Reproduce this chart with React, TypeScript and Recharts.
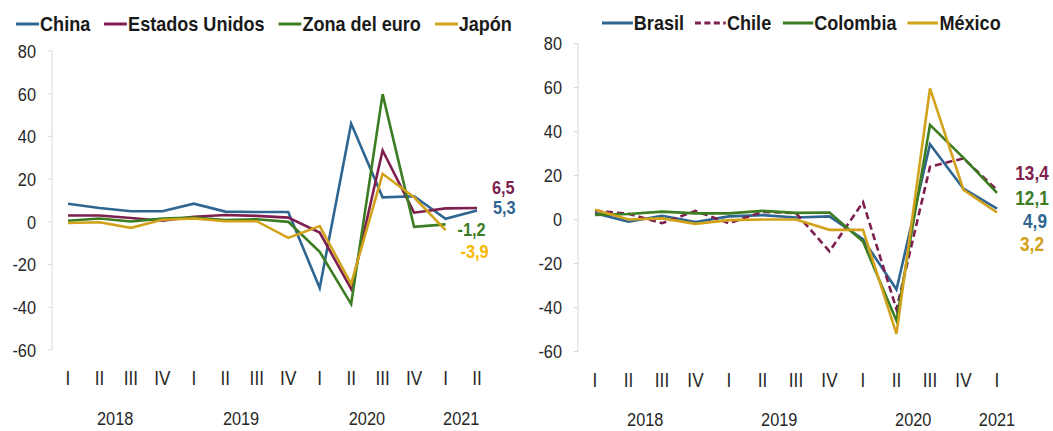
import React from "react";
import { LineChart, Line, XAxis, YAxis, LabelList } from "recharts";

const FONT = "'Liberation Sans', Arial, sans-serif";
const SX = 0.86; // horizontal condensation to mimic a narrow typeface

// ---------- Left panel data ----------
const leftQuarters = ["I", "II", "III", "IV", "I", "II", "III", "IV", "I", "II", "III", "IV", "I", "II"];
const leftYears = ["2018", "2019", "2020", "2021"];
const leftYearCenters = [1.5, 5.5, 9.5, 12.5];
const china = [8.5, 6.5, 5.0, 5.0, 8.5, 4.8, 4.6, 4.6, -31, 46, 11.5, 12, 1.4, 5.3];
const estadosUnidos = [3.0, 3.0, 1.8, 0.5, 2.4, 3.2, 2.8, 2.0, -5, -31.4, 33.4, 4.3, 6.3, 6.5];
const zonaEuro = [0.5, 1.6, 0.2, 1.5, 2.0, 0.8, 1.2, 0.0, -14, -38.5, 59.8, -2.3, -1.2, null];
const japon = [-0.5, -0.2, -2.8, 1.0, 1.6, 0.3, 0.3, -7.5, -2.0, -29, 22.5, 11.5, -3.9, null];

// ---------- Right panel data ----------
const rightQuarters = ["I", "II", "III", "IV", "I", "II", "III", "IV", "I", "II", "III", "IV", "I"];
const rightYears = ["2018", "2019", "2020", "2021"];
const rightYearCenters = [1.5, 5.5, 9.5, 12];
const brasil = [2.9, -1.0, 1.7, -1.2, 1.4, 2.0, 0.9, 1.4, -9, -31.8, 34.2, 14, 4.9];
const chile = [4.0, 2.6, -1.7, 3.9, -1.7, 3.5, 2.9, -14.5, 7.9, -40.8, 24, 27.8, 13.4];
const colombia = [2.1, 2.5, 3.6, 2.8, 2.8, 3.9, 3.0, 3.2, -10, -46, 43, 28, 12.1];
const mexico = [4.4, 0.0, 0.5, -2.0, -0.3, 0.0, 0.0, -4.7, -4.7, -52, 59.6, 13.5, 3.2];

const yTicks = [-60, -40, -20, 0, 20, 40, 60, 80];

const BLUE = "#2f6591";
const MAROON = "#7d1f4f";
const GREEN = "#3c7d22";
const GOLD = "#d1a21a";
const TEXT = "#262626";

type Series = {
  key: string;
  name: string;
  color: string;
  values: (number | null)[];
  dash?: string;
  labelColor: string;
  dx: number;
  dy: number;
  anchor: "start" | "middle" | "end";
};

const leftSeries: Series[] = [
  { key: "china", name: "China", color: BLUE, values: china, labelColor: BLUE, dx: 16, dy: -3, anchor: "start" },
  { key: "us", name: "Estados Unidos", color: MAROON, values: estadosUnidos, labelColor: MAROON, dx: 15, dy: -21, anchor: "start" },
  { key: "euro", name: "Zona del euro", color: GREEN, values: zonaEuro, labelColor: GREEN, dx: 12, dy: 5, anchor: "start" },
  { key: "jp", name: "Japón", color: GOLD, values: japon, labelColor: "#f5b800", dx: 15, dy: 21, anchor: "start" },
];

const rightSeries: Series[] = [
  { key: "br", name: "Brasil", color: BLUE, values: brasil, labelColor: BLUE, dx: 38, dy: 12, anchor: "middle" },
  { key: "cl", name: "Chile", color: MAROON, values: chile, dash: "7 4", labelColor: MAROON, dx: 35, dy: -17, anchor: "middle" },
  { key: "co", name: "Colombia", color: GREEN, values: colombia, labelColor: GREEN, dx: 35, dy: 5, anchor: "middle" },
  { key: "mx", name: "México", color: GOLD, values: mexico, labelColor: GOLD, dx: 35, dy: 31, anchor: "middle" },
];

const fmt = (v: number) => v.toFixed(1).replace(".", ",");

function buildRows(quarters: string[], series: Series[]) {
  return quarters.map((q, i) => {
    const row: Record<string, any> = { idx: i, q };
    series.forEach((s) => {
      row[s.key] = s.values[i];
    });
    return row;
  });
}

function lastIndex(values: (number | null)[]) {
  for (let i = values.length - 1; i >= 0; i--) if (values[i] != null) return i;
  return -1;
}

function NarrowText({
  x,
  y,
  text,
  anchor,
  dy,
  size,
  fill,
  bold,
}: {
  x: number;
  y: number;
  text: string;
  anchor: "start" | "middle" | "end";
  dy: string;
  size: number;
  fill: string;
  bold?: boolean;
}) {
  return (
    <text
      x={0}
      y={0}
      dy={dy}
      transform={`translate(${x},${y}) scale(${SX},1)`}
      textAnchor={anchor}
      fontSize={size}
      fontFamily={FONT}
      fontWeight={bold ? "bold" : "normal"}
      fill={fill}
    >
      {text}
    </text>
  );
}

type PanelProps = {
  quarters: string[];
  years: string[];
  yearCenters: number[];
  series: Series[];
  width: number;
  height: number;
  marginTop: number;
  marginLeft: number;
  marginRight: number;
  qAxisHeight: number;
  yearAxisHeight: number;
  qMargin: number;
  yearMargin: number;
  pad: number;
  labelSize: number;
};

function Panel(p: PanelProps) {
  const data = buildRows(p.quarters, p.series);
  const n = p.quarters.length;
  return (
    <LineChart
      width={p.width}
      height={p.height}
      data={data}
      margin={{ top: p.marginTop, left: p.marginLeft, right: p.marginRight, bottom: 0 }}
    >
      <YAxis
        type="number"
        domain={[-60, 80]}
        ticks={yTicks}
        width={40}
        tickSize={4}
        tickMargin={12}
        axisLine={{ stroke: "#d9d9d9" }}
        tickLine={{ stroke: "#d9d9d9" }}
        interval={0}
        tick={(t: any) => (
          <NarrowText x={t.x} y={t.y} text={String(t.payload.value)} anchor="end" dy="0.36em" size={19} fill={TEXT} />
        )}
      />
      <XAxis
        dataKey="idx"
        type="category"
        height={p.qAxisHeight}
        padding={{ left: p.pad, right: p.pad }}
        axisLine={false}
        tickLine={false}
        tickSize={0}
        tickMargin={p.qMargin}
        interval={0}
        tick={(t: any) => (
          <NarrowText x={t.x} y={t.y} text={p.quarters[Number(t.payload.value)]} anchor="middle" dy="0.71em" size={20} fill={TEXT} />
        )}
      />
      <XAxis
        xAxisId="year"
        dataKey="idx"
        type="number"
        domain={[0, n - 1]}
        ticks={p.yearCenters}
        height={p.yearAxisHeight}
        padding={{ left: p.pad, right: p.pad }}
        axisLine={false}
        tickLine={false}
        tickSize={0}
        tickMargin={p.yearMargin}
        interval={0}
        allowDecimals
        tick={(t: any) => (
          <NarrowText
            x={t.x}
            y={t.y}
            text={p.years[p.yearCenters.indexOf(Number(t.payload.value))] ?? ""}
            anchor="middle"
            dy="0.71em"
            size={19}
            fill={TEXT}
          />
        )}
      />
      {p.series.map((s) => {
        const li = lastIndex(s.values);
        return (
          <Line
            key={s.key}
            dataKey={s.key}
            name={s.name}
            stroke={s.color}
            strokeWidth={2.6}
            strokeDasharray={s.dash}
            dot={false}
            activeDot={false}
            isAnimationActive={false}
            connectNulls={false}
            type="linear"
          >
            <LabelList
              dataKey={s.key}
              content={(props: any) => {
                const { x, y, index, value } = props;
                if (index !== li || value == null) return null;
                return (
                  <NarrowText
                    x={Number(x) + s.dx}
                    y={Number(y) + s.dy}
                    text={fmt(Number(value))}
                    anchor={s.anchor}
                    dy="0.36em"
                    size={p.labelSize}
                    fill={s.labelColor}
                    bold
                  />
                );
              }}
            />
          </Line>
        );
      })}
    </LineChart>
  );
}

function Legend({ series, markerWidth, gap, left, top }: { series: Series[]; markerWidth: number; gap: number; left: number; top: number }) {
  return (
    <div
      style={{
        position: "absolute",
        left,
        top,
        display: "flex",
        alignItems: "center",
        gap,
        fontFamily: FONT,
        fontSize: 21,
        fontWeight: "bold",
        color: "#1a1a1a",
        whiteSpace: "nowrap",
        lineHeight: "24px",
        transform: `scaleX(${SX})`,
        transformOrigin: "left center",
      }}
    >
      {series.map((s) => (
        <div key={s.key} style={{ display: "flex", alignItems: "center" }}>
          <svg width={markerWidth} height={6} style={{ marginRight: 1 }}>
            <line x1={0} y1={3} x2={markerWidth} y2={3} stroke={s.color} strokeWidth={3} strokeDasharray={s.dash ? "7 4" : undefined} />
          </svg>
          <span>{s.name}</span>
        </div>
      ))}
    </div>
  );
}

export default function App() {
  return (
    <div style={{ position: "absolute", left: 0, top: 0, width: 1053, height: 431, background: "#ffffff", overflow: "hidden" }}>
      <div style={{ position: "absolute", left: 0, top: 0 }}>
        <Panel
          quarters={leftQuarters}
          years={leftYears}
          yearCenters={leftYearCenters}
          series={leftSeries}
          width={530}
          height={431}
          marginTop={51}
          marginLeft={12}
          marginRight={37}
          qAxisHeight={40}
          yearAxisHeight={41}
          qMargin={21}
          yearMargin={21}
          pad={16}
          labelSize={19}
        />
      </div>
      <div style={{ position: "absolute", left: 530, top: 0 }}>
        <Panel
          quarters={rightQuarters}
          years={rightYears}
          yearCenters={rightYearCenters}
          series={rightSeries}
          width={523}
          height={431}
          marginTop={43.5}
          marginLeft={8}
          marginRight={39}
          qAxisHeight={40}
          yearAxisHeight={39.5}
          qMargin={21.5}
          yearMargin={21}
          pad={17}
          labelSize={20}
        />
      </div>
      <Legend series={leftSeries} markerWidth={27} gap={16} left={16} top={12} />
      <Legend series={rightSeries} markerWidth={36} gap={13} left={602} top={11} />
    </div>
  );
}
